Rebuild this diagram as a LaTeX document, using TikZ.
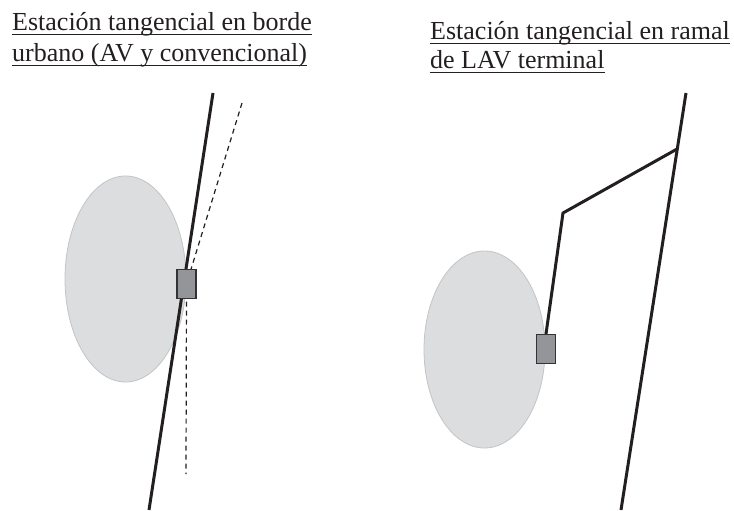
\documentclass[tikz,border=0pt]{standalone}
\usepackage{fontspec}
\setmainfont{Liberation Serif}
\usetikzlibrary{calc,shapes.geometric}
\definecolor{cityfill}{HTML}{DCDDDF}
\definecolor{cityedge}{HTML}{C4C4C6}
\definecolor{stfill}{HTML}{939598}
\definecolor{stedge}{HTML}{333333}
\definecolor{track}{HTML}{231F20}
\tikzset{
  city/.style={ellipse, fill=cityfill, draw=cityedge, line width=0.8pt, inner sep=0pt},
  stationbox/.style={rectangle, fill=stfill, draw=stedge, line width=1.2pt, minimum width=19pt, minimum height=29pt, inner sep=0pt},
  trackline/.style={draw=track, line width=3pt},
  convline/.style={draw=track, line width=1.2pt, dash pattern=on 5pt off 4pt},
  title/.style={anchor=base west, inner sep=0pt, text=track, font=\fontsize{26}{30}\selectfont},
  uline/.style={draw=track, line width=1.5pt}
}
\begin{document}
\begin{tikzpicture}[x=1pt, y=-1pt]
\useasboundingbox (0,0) rectangle (734,511);
% titles
\node[title] (t1) at (12,31) {Estación tangencial en borde};
\node[title] (t2) at (12,62) {urbano (AV y convencional)};
\node[title] (t3) at (430,40) {Estación tangencial en ramal};
\node[title] (t4) at (430,69) {de LAV terminal};
\foreach \t in {t1,t2,t3,t4}{
  \draw[uline] ($(\t.base west)+(0,3.5)$) -- ($(\t.base east)+(0,3.5)$);
}
% cities
\node[city, minimum width=121pt, minimum height=206pt] (c1) at (125.5,279) {};
\node[city, minimum width=121pt, minimum height=197pt] (c2) at (484.5,349.5) {};
% left scheme
\coordinate (ltop) at (213,93);
\coordinate (lbot) at (149,510);
\coordinate (dtop) at (242,103);
\coordinate (dbot) at (186,474);
\node[stationbox] (s1) at (186.5,284) {};
\draw[convline] (dtop) -- (s1.center) -- (dbot);
\draw[trackline] (ltop) -- (lbot);
\node[stationbox] at (s1.center) {};
% right scheme
\coordinate (rtop) at (686,93);
\coordinate (rbot) at (621,510);
\coordinate (junc) at ($(rtop)!0.134!(rbot)$);
\coordinate (bend) at (563,213);
\draw[trackline] (rtop) -- (rbot);
\node[stationbox] (s2) at (546,349) {};
\draw[trackline, line join=miter] (junc) -- (bend) -- (s2.north);
\node[stationbox] at (s2.center) {};
\end{tikzpicture}
\end{document}
